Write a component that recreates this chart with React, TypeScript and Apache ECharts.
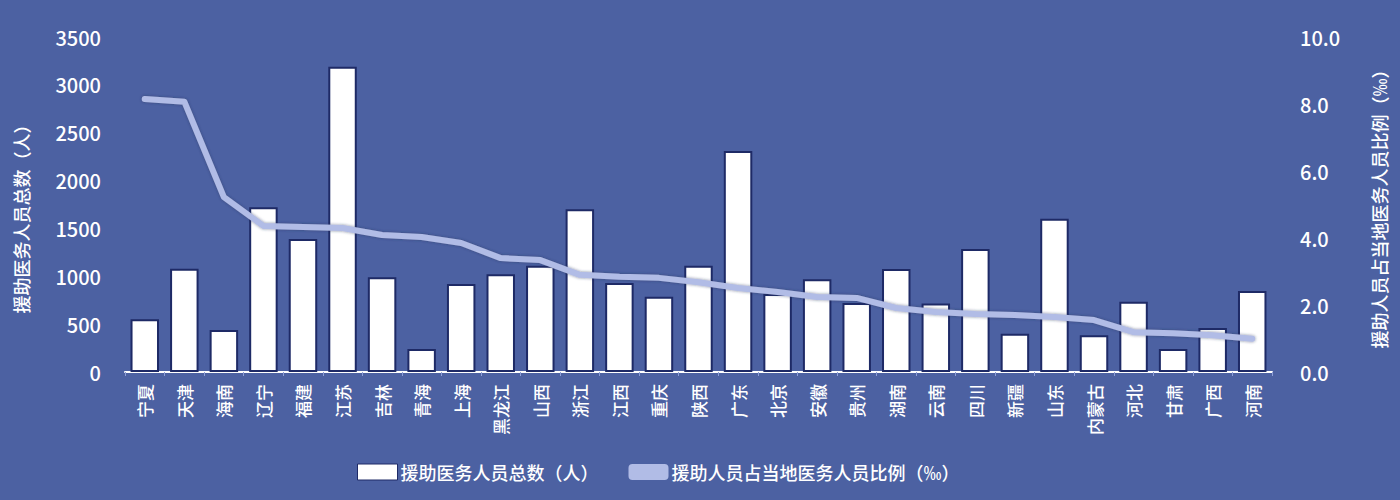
import React, { useEffect, useRef } from "react";
import * as echarts from "echarts";

const categories = ["宁夏","天津","海南","辽宁","福建","江苏","吉林","青海","上海","黑龙江","山西","浙江","江西","重庆","陕西","广东","北京","安徽","贵州","湖南","云南","四川","新疆","山东","内蒙古","河北","甘肃","广西","河南"];
const totalStaff = [550,1080,440,1720,1390,3190,990,240,920,1020,1110,1700,930,785,1110,2310,815,970,720,1075,715,1285,400,1600,385,735,240,460,845];
const ratioPermille = [8.15,8.07,5.22,4.36,4.33,4.30,4.09,4.03,3.85,3.40,3.34,2.90,2.84,2.81,2.68,2.51,2.39,2.24,2.21,1.91,1.79,1.73,1.70,1.64,1.55,1.19,1.16,1.10,0.99];
const leftTicks = { min: 0, max: 3500, interval: 500 };
const rightTicks = { min: 0, max: 10, interval: 2 };
const barName = "援助医务人员总数（人）";
const lineName = "援助人员占当地医务人员比例（‰）";

const FONT = "'Noto Sans CJK SC', 'Noto Sans', sans-serif";

export default function App() {
  const ref = useRef<HTMLDivElement>(null);
  useEffect(() => {
    const chart = echarts.init(ref.current!, null, { renderer: "svg" });
    chart.setOption({
      animation: false,
      backgroundColor: "#4c61a2",
      textStyle: { fontFamily: FONT },
      grid: { left: 125, right: 128, top: 37, bottom: 128 },
      legend: {
        bottom: 14,
        left: 352,
        itemGap: 30,
        itemWidth: 40,
        itemHeight: 16,
        textStyle: { color: "#ffffff", fontSize: 18, fontFamily: FONT, fontWeight: 500, padding: [0, 0, 0, -2] },
        data: [
          { name: barName, icon: "rect", itemStyle: { color: "#ffffff", borderColor: "#1e2a66", borderWidth: 1 } },
          { name: lineName, icon: "roundRect", itemStyle: { color: "#b1bce6" } },
        ],
      },
      xAxis: {
        type: "category",
        data: categories,
        axisLine: { lineStyle: { color: "#ffffff", width: 2 } },
        axisTick: { show: true, length: 4, lineStyle: { color: "#8fa0d8" } },
        axisLabel: { rotate: 90, color: "#ffffff", fontSize: 17, margin: 12, interval: 0, fontFamily: FONT, fontWeight: 500 },
      },
      yAxis: [
        {
          type: "value",
          min: leftTicks.min,
          max: leftTicks.max,
          interval: leftTicks.interval,
          name: barName,
          nameLocation: "middle",
          nameGap: 95,
          nameTextStyle: { color: "#ffffff", fontSize: 18, fontFamily: FONT, fontWeight: 500, padding: [0, 20, 0, 0] },
          splitLine: { show: false },
          axisLine: { show: false },
          axisTick: { show: false },
          axisLabel: { color: "#ffffff", fontSize: 20, margin: 24, fontFamily: FONT, fontWeight: 500, formatter: (v: number) => String(v) },
        },
        {
          type: "value",
          min: rightTicks.min,
          max: rightTicks.max,
          interval: rightTicks.interval,
          name: lineName,
          nameLocation: "middle",
          nameGap: 98,
          nameRotate: 90,
          nameTextStyle: { color: "#ffffff", fontSize: 18, fontFamily: FONT, fontWeight: 500 },
          splitLine: { show: false },
          axisLine: { show: false },
          axisTick: { show: false },
          axisLabel: {
            color: "#ffffff",
            fontSize: 20,
            margin: 28,
            fontFamily: FONT,
            fontWeight: 500,
            formatter: (v: number) => v.toFixed(1),
          },
        },
      ],
      series: [
        {
          name: barName,
          type: "bar",
          yAxisIndex: 0,
          data: totalStaff,
          barWidth: "72%",
          itemStyle: { color: "#ffffff", borderColor: "#1e2a66", borderWidth: 2 },
        },
        {
          name: lineName,
          type: "line",
          yAxisIndex: 1,
          data: ratioPermille,
          symbol: "none",
          lineStyle: {
            color: "#b1bce6",
            width: 6,
            cap: "round",
            join: "round",
            shadowColor: "rgba(40,50,90,0.6)",
            shadowBlur: 3,
          },
          itemStyle: { color: "#b1bce6" },
        },
      ],
    });
    return () => chart.dispose();
  }, []);
  return <div ref={ref} style={{ position: "fixed", left: 0, top: 0, width: 1400, height: 500 }} />;
}
